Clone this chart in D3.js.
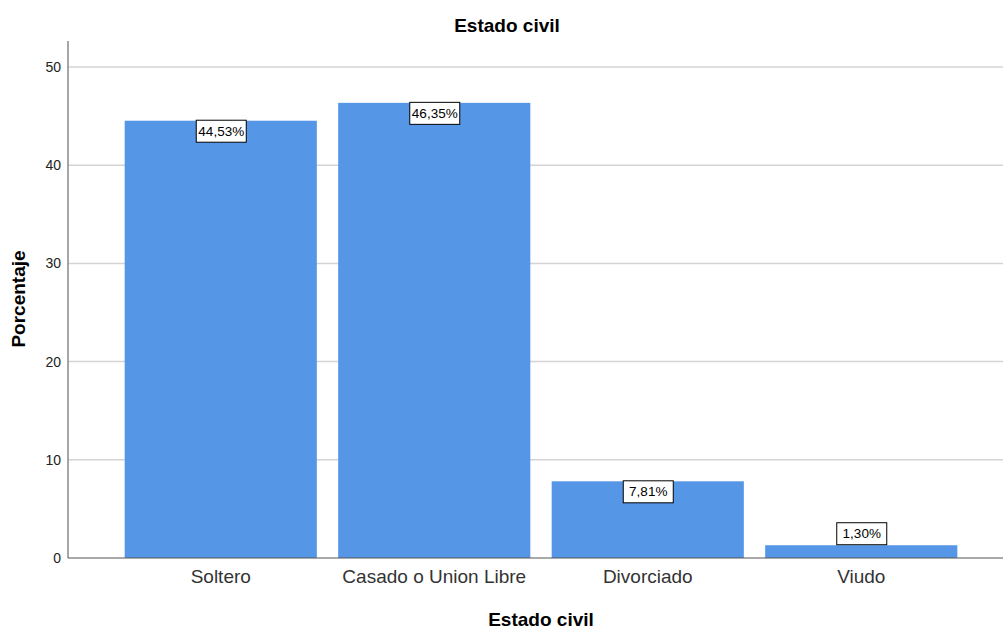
<!DOCTYPE html>
<html><head><meta charset="utf-8">
<script src="https://cdn.jsdelivr.net/npm/d3@7"></script>
<style>body{margin:0;background:#fff;}svg{display:block;font-family:"Liberation Sans",Arial,sans-serif;}</style>
</head><body>
<svg id="c" width="1003" height="630"></svg>
<script>
const categories = ["Soltero", "Casado o Union Libre", "Divorciado", "Viudo"];
const values = [44.53, 46.35, 7.81, 1.30];
const labels = ["44,53%", "46,35%", "7,81%", "1,30%"];
const yTicks = [0, 10, 20, 30, 40, 50];

const svg = d3.select("#c");
const x = d3.scaleBand().domain(categories).range([114, 968]).paddingInner(0.1).paddingOuter(0.05);
const y = d3.scaleLinear().domain([0, 50]).range([558, 67]);

// gridlines
svg.append("g").selectAll("line").data(yTicks.filter(d => d > 0)).join("line")
  .attr("x1", 68).attr("x2", 1003).attr("y1", d => y(d)).attr("y2", d => y(d))
  .attr("stroke", "#d4d4d4").attr("stroke-width", 1.5);

// bars
svg.append("g").selectAll("rect").data(values).join("rect")
  .attr("x", (d, i) => x(categories[i])).attr("width", x.bandwidth())
  .attr("y", d => y(d)).attr("height", d => y(0) - y(d))
  .attr("fill", "#5596e6");

// y axis
const ya = svg.append("g").attr("transform", "translate(68,0)")
  .call(d3.axisLeft(y).tickValues(yTicks).tickSize(0).tickPadding(7));
ya.select(".domain").remove();
ya.selectAll("text").attr("font-size", 14).attr("fill", "#222").attr("font-family", "Liberation Sans, Arial, sans-serif");
svg.append("line").attr("x1", 68).attr("x2", 68).attr("y1", 41).attr("y2", 558).attr("stroke", "#888").attr("stroke-width", 1.5);
// baseline
svg.append("line").attr("x1", 68).attr("x2", 1003).attr("y1", y(0)).attr("y2", y(0)).attr("stroke", "#555").attr("stroke-width", 1.2);

// x axis
const xa = svg.append("g").attr("transform", `translate(0,${y(0)})`)
  .call(d3.axisBottom(x).tickSize(0).tickPadding(12));
xa.select(".domain").remove();
xa.selectAll("text").attr("font-size", 19).attr("fill", "#333").attr("font-family", "Liberation Sans, Arial, sans-serif");

// value labels
const bw = 50, bh = 22;
const lg = svg.append("g").selectAll("g").data(values).join("g")
  .attr("transform", (d, i) => {
    const cx = x(categories[i]) + x.bandwidth() / 2;
    const top = (y(0) - y(d)) > bh + 2 ? y(d) - 1 : y(d) - bh - 1;
    return `translate(${cx},${top})`;
  });
lg.append("rect").attr("x", -bw / 2 + 0.5).attr("y", 0.5).attr("width", bw).attr("height", bh)
  .attr("fill", "#fff").attr("stroke", "#000").attr("stroke-width", 1);
lg.append("text").attr("x", 0.5).attr("y", bh / 2 + 5).attr("text-anchor", "middle")
  .attr("font-size", 13.5).attr("fill", "#000").text((d, i) => labels[i]);

// titles
svg.append("text").attr("x", 507).attr("y", 32).attr("text-anchor", "middle")
  .attr("font-size", 19).attr("font-weight", "bold").attr("fill", "#000").text("Estado civil");
svg.append("text").attr("x", 541).attr("y", 626).attr("text-anchor", "middle")
  .attr("font-size", 19).attr("font-weight", "bold").attr("fill", "#000").text("Estado civil");
svg.append("text").attr("transform", "translate(25,299) rotate(-90)").attr("text-anchor", "middle")
  .attr("font-size", 19).attr("font-weight", "bold").attr("fill", "#000").text("Porcentaje");
</script>
</body></html>
